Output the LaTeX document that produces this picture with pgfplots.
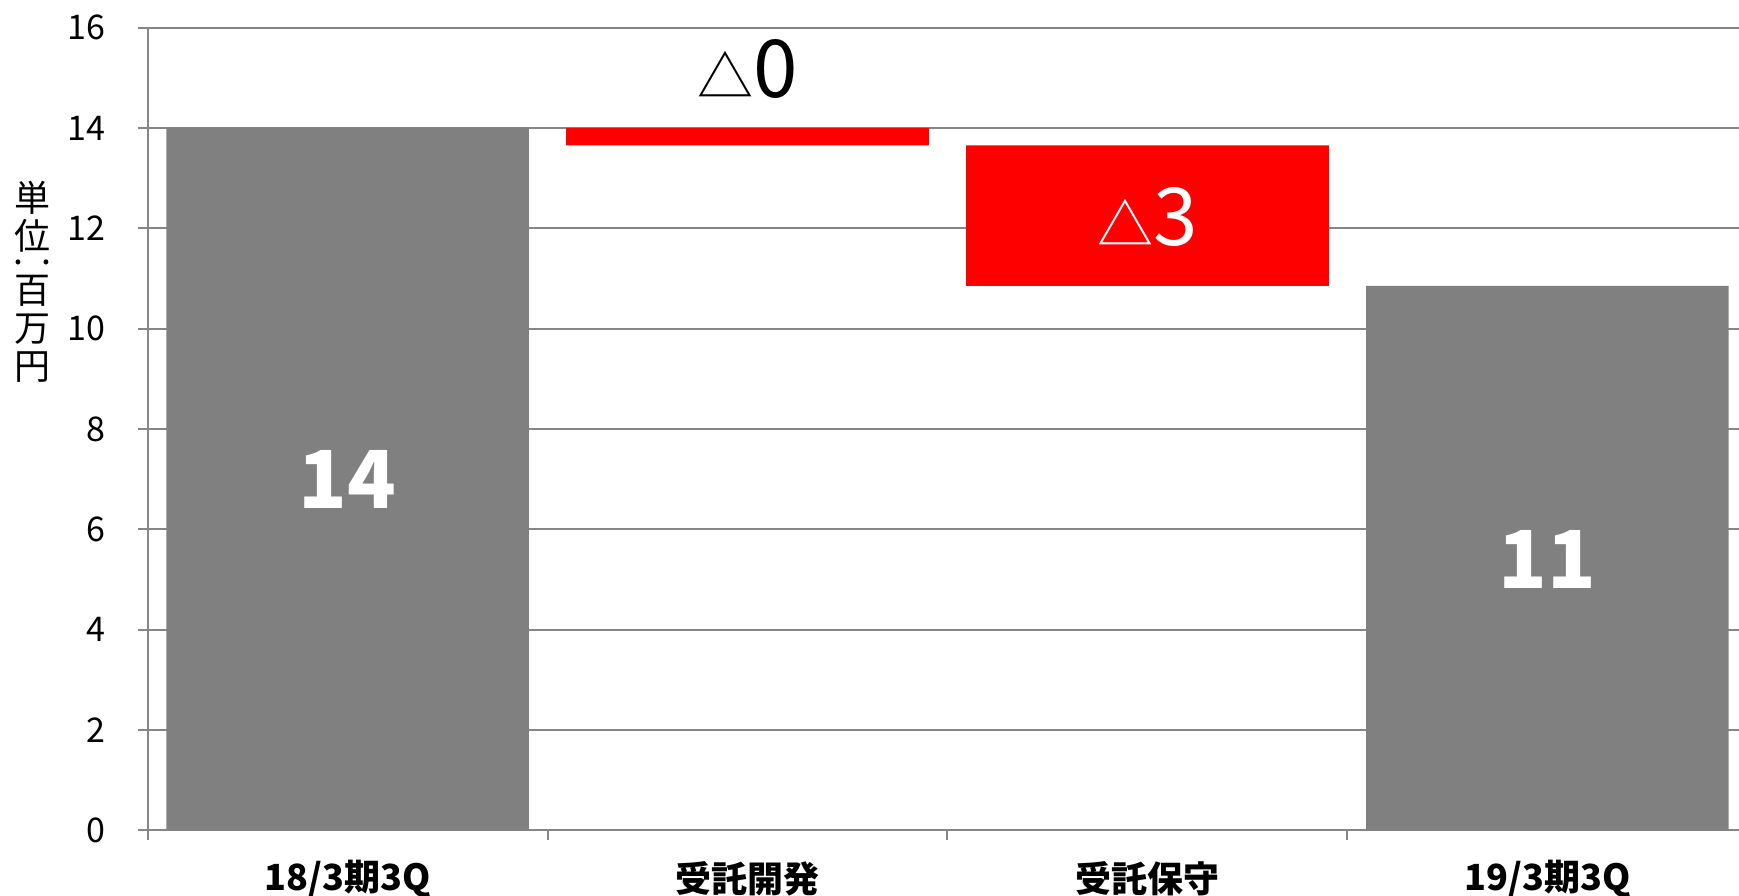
\documentclass[border=0pt]{standalone}
\usepackage{fontspec}
\setmainfont{Noto Sans CJK JP}
\usepackage{pgfplots}
\pgfplotsset{compat=1.18}

\definecolor{axgray}{RGB}{134,134,134}
\definecolor{bargray}{RGB}{128,128,128}
\definecolor{barred}{RGB}{255,0,0}

\begin{document}
\begin{tikzpicture}
\begin{axis}[
  scale only axis,
  width=397.9pt, height=200.7pt,
  at={(0,0)}, anchor=south west,
  ybar stacked,
  bar width=0.9066,
  xmin=-0.5, xmax=3.479,
  ymin=0, ymax=16,
  ytick={0,2,...,16},
  xtick={-0.5,0.5,1.5,2.5,3.5},
  xticklabels={},
  extra x ticks={0,1,2,3},
  extra x tick labels={18/3期3Q,受託開発,受託保守,19/3期3Q},
  extra x tick style={
    tick style={draw=none},
    xticklabel style={font=\bfseries\fontsize{9}{10}\selectfont, anchor=center, inner sep=0pt, yshift=-9.7pt},
  },
  axis x line*=bottom,
  axis y line*=left,
  axis line style={axgray, line width=0.5pt},
  tick align=outside,
  major tick length=2.5pt,
  tick style={axgray, line width=0.5pt},
  ymajorgrids,
  grid style={axgray, line width=0.5pt},
  /pgf/number format/assume math mode=true,
  yticklabel style={font=\fontsize{8.5}{10}\selectfont, anchor=east, inner sep=0pt, xshift=-7.9pt},
  clip=false,
]
% 見えない土台
\addplot[draw=none, fill=none] coordinates {(0,0) (1,13.65) (2,10.85) (3,0)};
% 期の実績
\addplot[draw=none, fill=bargray] coordinates {(0,14) (1,0) (2,0) (3,10.85)};
% 減少分
\addplot[draw=none, fill=barred] coordinates {(0,0) (1,0.35) (2,2.8) (3,0)};

\coordinate (lA) at (axis cs:0,6.99);
\coordinate (lB) at (axis cs:1,15.18);
\coordinate (lC) at (axis cs:2,12.22);
\coordinate (lD) at (axis cs:3,5.39);
\coordinate (lY) at ([xshift=-28.8pt]rel axis cs:0,0.683);
\end{axis}

% ラベル（棒の上に重ねる）
\node[text=white, font=\bfseries\fontsize{20}{20}\selectfont] at (lA) {14};
\node[text=black, font=\fontsize{20}{20}\selectfont] at (lB) {{\fontsize{14}{14}\selectfont △}0};
\node[text=white, font=\fontsize{20}{20}\selectfont] at (lC) {{\fontsize{14}{14}\selectfont △}3};
\node[text=white, font=\bfseries\fontsize{20}{20}\selectfont] at (lD) {11};
\node[font=\fontsize{9}{9.5}\selectfont, align=center, inner sep=0pt] at (lY)
  {単\\位\\[-3pt]·\kern2pt·\\[-2.5pt]百\\万\\円};

\pgfresetboundingbox
\useasboundingbox (-36.9pt,-16.35pt) rectangle (397.9pt,207.6pt);
\end{tikzpicture}
\end{document}
